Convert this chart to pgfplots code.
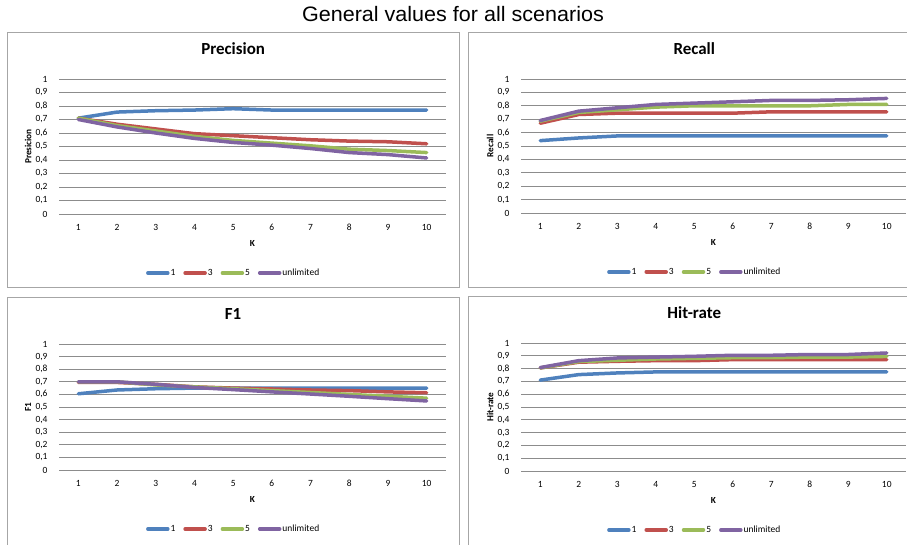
\documentclass[border=0pt]{standalone}
\usepackage{pgfplots}
\pgfplotsset{compat=1.18}
\usepackage{pgfplotstable}
\usepackage{fontspec}
\setmainfont{Carlito}
\newfontfamily\headfont{Liberation Sans}

\definecolor{cone}{HTML}{4F81BD}
\definecolor{cthree}{HTML}{C0504D}
\definecolor{cfive}{HTML}{9BBB59}
\definecolor{cunl}{HTML}{8064A2}
\definecolor{gridc}{HTML}{8C8C8C}
\definecolor{framec}{HTML}{A6A6A6}

% K  limit1  limit3  limit5  unlimited
\pgfplotstableread{
k  a     b     c     d
1  0.71  0.71  0.71  0.70
2  0.755 0.665 0.655 0.645
3  0.765 0.63  0.615 0.60
4  0.77  0.595 0.575 0.56
5  0.78  0.58  0.545 0.53
6  0.77  0.565 0.525 0.51
7  0.77  0.55  0.505 0.485
8  0.77  0.54  0.48  0.455
9  0.77  0.535 0.47  0.44
10 0.77  0.52  0.455 0.415
}\precision

\pgfplotstableread{
k  a     b     c     d
1  0.54  0.67  0.685 0.69
2  0.56  0.735 0.75  0.76
3  0.575 0.745 0.77  0.785
4  0.575 0.745 0.79  0.81
5  0.575 0.745 0.80  0.82
6  0.575 0.745 0.80  0.83
7  0.575 0.755 0.80  0.84
8  0.575 0.755 0.80  0.84
9  0.575 0.755 0.81  0.845
10 0.575 0.755 0.81  0.855
}\recall

\pgfplotstableread{
k  a     b     c     d
1  0.605 0.695 0.70  0.70
2  0.635 0.695 0.70  0.70
3  0.645 0.68  0.675 0.68
4  0.65  0.66  0.66  0.655
5  0.65  0.65  0.645 0.638
6  0.65  0.643 0.63  0.62
7  0.65  0.635 0.615 0.603
8  0.65  0.63  0.60  0.585
9  0.65  0.62  0.585 0.566
10 0.65  0.613 0.57  0.548
}\fone

\pgfplotstableread{
k  a     b     c     d
1  0.71  0.805 0.805 0.808
2  0.753 0.85  0.855 0.862
3  0.766 0.857 0.865 0.883
4  0.774 0.862 0.875 0.89
5  0.774 0.862 0.88  0.896
6  0.774 0.87  0.885 0.904
7  0.774 0.87  0.885 0.904
8  0.774 0.87  0.89  0.91
9  0.774 0.87  0.89  0.91
10 0.774 0.87  0.895 0.922
}\hitrate

\pgfplotsset{
  panel/.style={
    scale only axis,
    anchor=south west,
    xmin=0.5, xmax=10.5, ymin=0, ymax=1,
    xtick={1,...,10},
    ytick={0,0.1,0.2,0.3,0.4,0.5,0.6,0.7,0.8,0.9,1},
    yticklabels={0,{0,1},{0,2},{0,3},{0,4},{0,5},{0,6},{0,7},{0,8},{0,9},1},
    /pgf/number format/assume math mode=true,
    ymajorgrids,
    major grid style={color=gridc, line width=0.7bp},
    axis line style={draw=none},
    major tick length=0pt,
    tick label style={font=\fontsize{9.5}{11}\selectfont},
    xticklabel style={anchor=center, yshift=-13bp},
    yticklabel style={anchor=east, xshift=-8bp},
    title style={font=\bfseries\fontsize{17}{20}\selectfont,
      at={(axis description cs:0.45,1)}, anchor=center, yshift=24bp},
    xlabel={K},
    xlabel style={font=\bfseries\fontsize{9.3}{11}\selectfont,
      at={(axis description cs:0.5,0)}, anchor=center, yshift=-29bp},
    ylabel style={font=\bfseries\fontsize{9.3}{11}\selectfont,
      at={(axis description cs:-0.08,0.5)}, anchor=center},
    legend style={draw=none, fill=none, at={(axis description cs:0.45,0)},
      anchor=center, yshift=-59bp, legend columns=4,
      font=\fontsize{9.5}{11}\selectfont,
      nodes={inner xsep=1bp, inner ysep=1bp},
      /tikz/every even column/.append style={column sep=7bp}},
    legend image code/.code={\draw[#1, line width=3.5bp, line cap=round]
      (1bp,0bp) -- (21bp,0bp);},
    every axis plot/.append style={line width=3.5bp, line join=round,
      line cap=round, mark=none},
  },
}

\newcommand{\fourlines}[1]{%
  \addplot[cone]   table[x=k, y=a] {#1};
  \addplot[cthree] table[x=k, y=b] {#1};
  \addplot[cfive]  table[x=k, y=c] {#1};
  \addplot[cunl]   table[x=k, y=d] {#1};
  \legend{1,3,5,unlimited}
}

\begin{document}
\begin{tikzpicture}
\path[use as bounding box] (0bp,0bp) rectangle (907bp,545bp);

% chart frames
\draw[framec, line width=1bp] (7bp,512bp) rectangle (459bp,257bp);
\draw[framec, line width=1bp] (468bp,512bp) rectangle (920bp,257bp);
\draw[framec, line width=1bp] (7bp,247bp) rectangle (459bp,-8bp);
\draw[framec, line width=1bp] (468bp,248bp) rectangle (920bp,-8bp);

\node[font=\headfont\fontsize{21}{24}\selectfont, anchor=base,
  xscale=1.03] at (453bp,523bp) {General values for all scenarios};

\begin{axis}[panel, at={(59bp,331bp)}, width=387bp, height=135bp,
  title={Precision}, ylabel={Presicion}]
  \fourlines{\precision}
\end{axis}

\begin{axis}[panel, at={(521bp,332bp)}, width=385bp, height=134bp,
  title={Recall}, ylabel={Recall}]
  \fourlines{\recall}
\end{axis}

\begin{axis}[panel, at={(59bp,75bp)}, width=387bp, height=126bp,
  title={F1}, ylabel={F1}]
  \fourlines{\fone}
\end{axis}

\begin{axis}[panel, at={(521bp,74bp)}, width=385bp, height=128bp,
  title={Hit-rate}, ylabel={Hit-rate}]
  \fourlines{\hitrate}
\end{axis}
\end{tikzpicture}
\end{document}
